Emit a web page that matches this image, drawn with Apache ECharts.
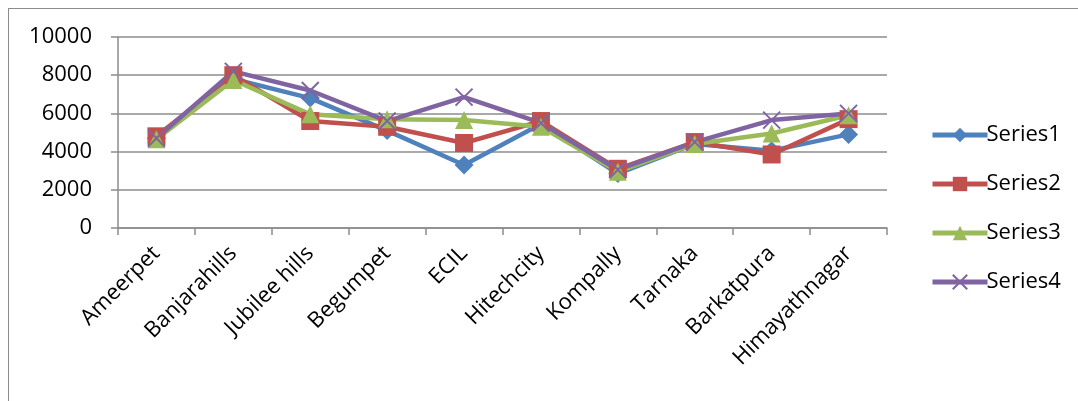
<!DOCTYPE html>
<html>
<head>
<meta charset="utf-8">
<script src="https://cdn.jsdelivr.net/npm/echarts@6/dist/echarts.min.js"></script>
<style>
  html, body { margin: 0; padding: 0; background: #fff; }
  #chart { width: 1078px; height: 401px; position: relative; }
  .frame { position: absolute; left: 8px; top: 8px; right: 0; bottom: 0;
           border-top: 1px solid #8c8c8c; border-left: 1px solid #8c8c8c; pointer-events: none; }
</style>
</head>
<body>
<div id="chart"></div>
<div class="frame"></div>
<script>
const categories = ['Ameerpet', 'Banjarahills', 'Jubilee hills', 'Begumpet', 'ECIL',
  'Hitechcity', 'Kompally', 'Tarnaka', 'Barkatpura', 'Himayathnagar']
const series1 = [4700, 7800, 6800, 5100, 3300, 5450, 2850, 4400, 4050, 4900]
const series2 = [4800, 8000, 5600, 5300, 4450, 5600, 3100, 4500, 3850, 5700]
const series3 = [4650, 7750, 5950, 5700, 5650, 5300, 2950, 4400, 4950, 5900]
const series4 = [4700, 8200, 7200, 5600, 6850, 5500, 3050, 4500, 5650, 6000]
const yTicks = [0, 2000, 4000, 6000, 8000, 10000]

const font = '"Open Sans", "Noto Sans", sans-serif'
const crossPath = 'path://M0,0L10,10M10,0L0,10'

const chart = echarts.init(document.getElementById('chart'))

function line(name, data, color, symbol, size, extra) {
  return Object.assign({
    name: name,
    type: 'line',
    data: data,
    symbol: symbol,
    symbolSize: size,
    lineStyle: { color: color, width: 4.5 },
    itemStyle: { color: color },
    emphasis: { disabled: true },
    animation: false
  }, extra || {})
}

chart.setOption({
  backgroundColor: '#fff',
  grid: { left: 118, right: 191, top: 37, bottom: 173 },
  legend: {
    orient: 'vertical',
    left: 925,
    top: 119,
    itemWidth: 55,
    itemHeight: 18,
    itemGap: 27,
    lineStyle: { width: 5 },
    textStyle: { fontFamily: font, fontSize: 22, color: '#000', padding: [0, 0, 0, -6] },
    data: ['Series1', 'Series2', 'Series3', 'Series4']
  },
  xAxis: {
    type: 'category',
    data: categories,
    boundaryGap: true,
    axisLine: { lineStyle: { color: '#8c8c8c', width: 1.5 } },
    axisTick: { show: true, length: 7, lineStyle: { color: '#8c8c8c', width: 1.5 } },
    axisLabel: { rotate: 45, fontFamily: font, fontSize: 22, color: '#000', margin: 22, interval: 0 },
    splitLine: { show: false }
  },
  yAxis: {
    type: 'value',
    min: yTicks[0],
    max: yTicks[yTicks.length - 1],
    interval: 2000,
    axisLine: { show: true, lineStyle: { color: '#8c8c8c', width: 1.5 } },
    axisTick: { show: true, inside: false, length: 7, lineStyle: { color: '#8c8c8c', width: 1.5 } },
    axisLabel: { fontFamily: font, fontSize: 22, color: '#000', margin: 26, formatter: v => String(v) },
    splitLine: { show: true, lineStyle: { color: '#8c8c8c', width: 1.5 } }
  },
  series: [
    line('Series1', series1, '#4F81BD', 'diamond', 19),
    line('Series2', series2, '#C0504D', 'rect', 18),
    line('Series3', series3, '#9BBB59', 'triangle', 18),
    line('Series4', series4, '#8064A2', crossPath, 17, {
      itemStyle: { color: 'none', borderColor: '#8064A2', borderWidth: 2 }
    })
  ]
})
</script>
</body>
</html>
